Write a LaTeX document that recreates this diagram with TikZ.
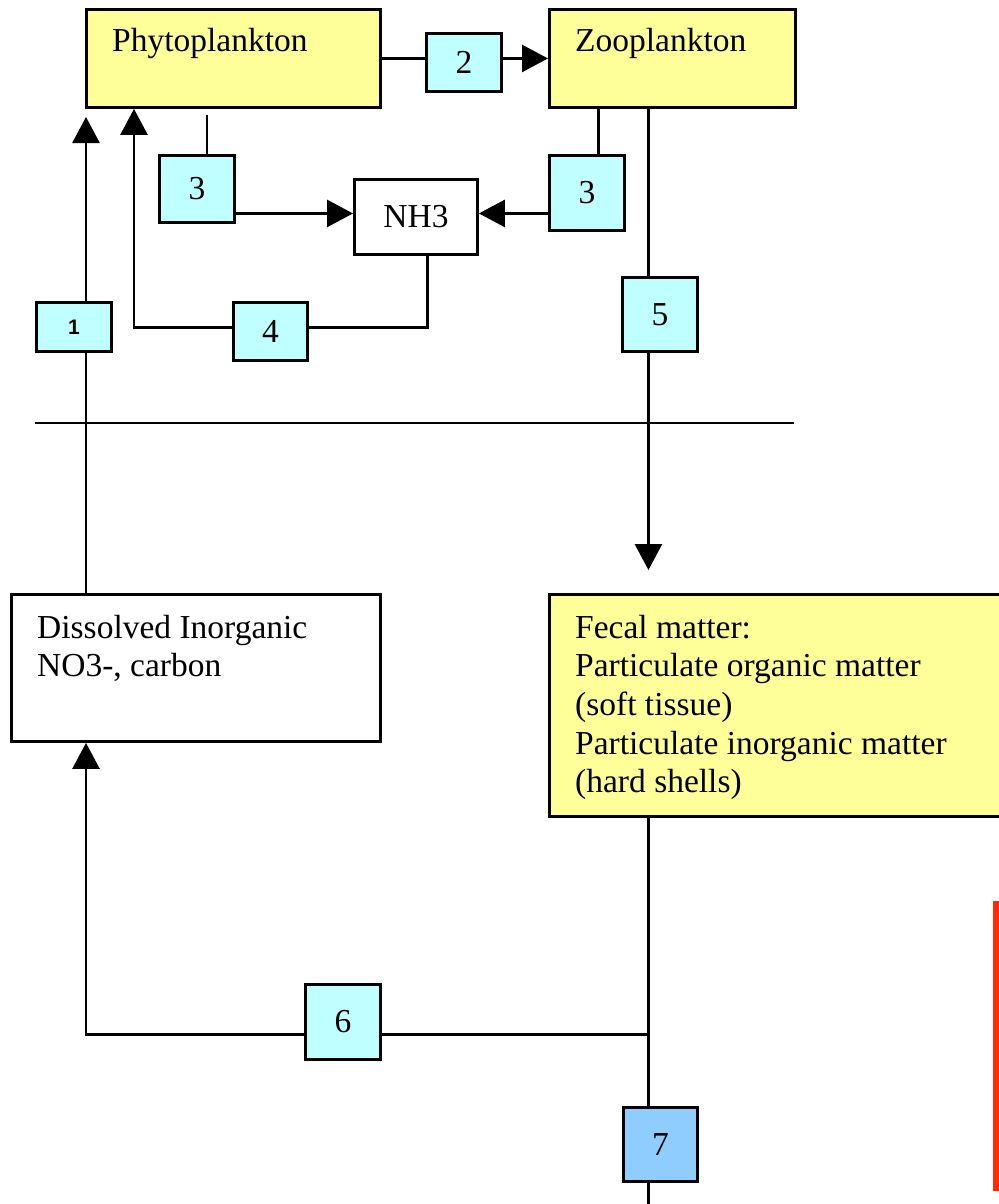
\documentclass[tikz,border=0pt]{standalone}
\usepackage{fontspec}
\setmainfont{Liberation Serif}
\newfontfamily\onefont{Liberation Sans}
\usetikzlibrary{arrows.meta}
\definecolor{boxyellow}{HTML}{FFFF99}
\definecolor{boxcyan}{HTML}{BFFFFF}
\definecolor{boxblue}{HTML}{8FCCFF}
\definecolor{barred}{HTML}{FF2A00}
\begin{document}
\begin{tikzpicture}[x=1pt,y=-1pt,
  box/.style={draw=black, line width=2.9pt, rectangle, inner sep=0pt, anchor=north west,
    font=\fontsize{33.5}{38.7}\selectfont},
  yellowbox/.style={box, fill=boxyellow},
  whitebox/.style={box, fill=white},
  numbox/.style={box, fill=boxcyan},
  bluebox/.style={box, fill=boxblue},
  txt/.style={inner sep=0pt, anchor=base west, font=\fontsize{33.5}{38.7}\selectfont},
  conn/.style={draw=black, line width=2.7pt},
  arr/.style={conn, -{Triangle[length=26pt,width=27pt]}}
]
\useasboundingbox (0,0) rectangle (998,1204);
\fill[white] (0,0) rectangle (998,1204);

% big boxes
\node[yellowbox, minimum width=294pt, minimum height=98pt] (phyto) at (85,8) {};
\node[yellowbox, minimum width=246pt, minimum height=98pt] (zoo) at (548,8) {};
\node[whitebox, minimum width=369pt, minimum height=147pt] (dis) at (10,593) {};
\node[yellowbox, minimum width=470pt, minimum height=222pt] (fecal) at (548,593) {};
\node[whitebox, minimum width=123pt, minimum height=75pt] (nh3) at (353,178) {NH3};

% texts
\node[txt] (phyto-t) at (112,52) {Phytoplankton};
\node[txt] (zoo-t) at (575,52) {Zooplankton};
\node[txt] (dis-t) at (37,638) {\renewcommand\arraystretch{1}\begin{tabular}[t]{@{}l@{}}Dissolved Inorganic\\NO3-, carbon\end{tabular}};
\node[txt] (fecal-t) at (575,638) {\renewcommand\arraystretch{1}\begin{tabular}[t]{@{}l@{}}Fecal matter:\\Particulate organic matter\\(soft tissue)\\Particulate inorganic matter\\(hard shells)\end{tabular}};

% number boxes
\node[numbox, minimum width=75pt, minimum height=58pt] (b2) at (425,32) {2};
\node[numbox, minimum width=75pt, minimum height=67pt] (b3a) at (158,154) {3};
\node[numbox, minimum width=75pt, minimum height=75pt] (b3b) at (548,154) {3};
\node[numbox, minimum width=75pt, minimum height=49pt, font=\onefont\bfseries\fontsize{21}{23}\selectfont] (b1) at (35,301) {1};
\node[numbox, minimum width=74pt, minimum height=58pt] (b4) at (232,301) {4};
\node[numbox, minimum width=75pt, minimum height=74pt] (b5) at (621,276) {5};
\node[numbox, minimum width=75pt, minimum height=75pt] (b6) at (304,983) {6};
\node[bluebox, minimum width=74pt, minimum height=74pt] (b7) at (622,1106) {7};

% helper coordinates
\coordinate (p3) at (207,115);
\coordinate (nhL) at ([yshift=3.5pt]nh3.west);
\coordinate (nhR) at ([yshift=3.5pt]nh3.east);
\coordinate (z3) at ([xshift=11.5pt]b3b.north);
\coordinate (z5) at ([xshift=-11.5pt]b5.north);
\coordinate (finy) at (0,570);
\coordinate (p1) at (86,117);
\coordinate (n4) at ([xshift=11.5pt]nh3.south);
\coordinate (b4e) at ([yshift=4pt]b4.east);
\coordinate (p4) at (134,0);
\coordinate (f7) at ([xshift=-12pt]b7.north);
\coordinate (b6e) at ([yshift=-12.5pt]b6.east);
\coordinate (bot) at (0,1210);

% connectors
\draw[conn] (phyto.east) -- (phyto.east -| b2.west);
\draw[arr] (b2.east |- zoo.west) -- (zoo.west);
\draw[conn] (p3) -- (p3 |- b3a.north);
\draw[arr] (b3a.east |- nhL) -- (nhL);
\draw[arr] (b3b.west |- nhR) -- (nhR);
\draw[conn] (z3 |- zoo.south) -- (z3);
\draw[conn] (z5 |- zoo.south) -- (z5);
\draw[arr] (z5 |- b5.south) -- (z5 |- finy);
\draw[arr] (p1 |- b1.north) -- (p1);
\draw[conn] (p1 |- dis.north) -- (p1 |- b1.south);
\draw[conn] (n4) |- (b4e);
\draw[arr] (b4.west |- b4e) -| (p4 |- phyto.south);
\draw[conn] (f7 |- fecal.south) -- (f7);
\draw[conn] (f7 |- b6e) -- (b6e);
\draw[arr] (b6e -| b6.west) -| (p1 |- dis.south);
\draw[conn] (f7 |- b7.south) -- (f7 |- bot);

% water line
\draw[conn] (35,423) -- (794,423);

% red bar
\fill[barred] (993,901) rectangle (999,1191);
\end{tikzpicture}
\end{document}
